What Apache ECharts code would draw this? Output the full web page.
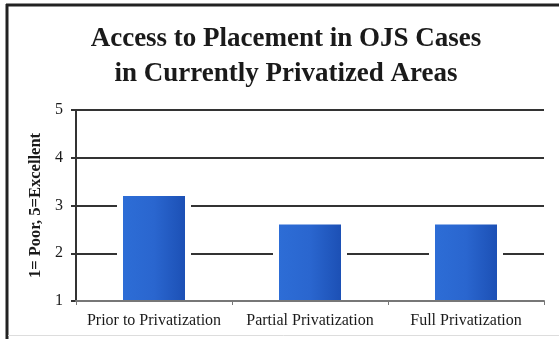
<!DOCTYPE html>
<html>
<head>
<meta charset="utf-8">
<script src="https://cdn.jsdelivr.net/npm/echarts@6/dist/echarts.min.js"></script>
<style>html,body{margin:0;padding:0;background:#fff;}#c{width:559px;height:339px;}</style>
</head>
<body>
<div id="c"></div>
<script>
const titleLines = ["Access to Placement in OJS Cases", "in Currently Privatized Areas"];
const categories = ["Prior to Privatization", "Partial Privatization", "Full Privatization"];
const values = [3.2, 2.6, 2.6];
const yTicks = [1, 2, 3, 4, 5];
const yName = "1= Poor, 5=Excellent";

const chart = echarts.init(document.getElementById('c'), null, {renderer: 'canvas'});
const serif = '"Liberation Serif", "DejaVu Serif", serif';
chart.setOption({
  backgroundColor: '#ffffff',
  animation: false,
  title: {
    text: titleLines.join('\n'),
    left: 281, textAlign: 'center', top: 17,
    textStyle: {fontFamily: serif, fontWeight: 'bold', fontSize: 27, lineHeight: 35, color: '#1a1a1a'}
  },
  graphic: [
    {type: 'line', shape: {x1: 6, y1: 5, x2: 559, y2: 5}, style: {stroke: '#222', lineWidth: 3}},
    {type: 'line', shape: {x1: 7, y1: 4, x2: 7, y2: 339}, style: {stroke: '#222', lineWidth: 3}},
    {type: 'line', shape: {x1: 8, y1: 335.5, x2: 559, y2: 335.5}, style: {stroke: '#ddd', lineWidth: 1}}
  ],
  grid: {left: 76, right: 15, top: 110, bottom: 38},
  xAxis: [{
    type: 'category', data: categories, z: 5,
    axisLine: {lineStyle: {color: '#777', width: 2}},
    axisTick: {show: true, length: 4, lineStyle: {color: '#777'}},
    axisLabel: {interval: 0, fontFamily: serif, fontSize: 16, color: '#1a1a1a', margin: 12}
  }, {
    type: 'category', data: categories, show: false, position: 'bottom'
  }],
  yAxis: {
    type: 'value', min: yTicks[0], max: yTicks[yTicks.length - 1], interval: 1,
    name: yName, nameLocation: 'middle', nameGap: 31, nameRotate: 90,
    nameTextStyle: {fontFamily: serif, fontWeight: 'bold', fontSize: 16.5, color: '#1a1a1a'},
    axisLine: {show: true, lineStyle: {color: '#333', width: 2}},
    axisTick: {show: true, length: 5, lineStyle: {color: '#333', width: 2}},
    axisLabel: {fontFamily: serif, fontSize: 16, color: '#1a1a1a', margin: 13},
    splitLine: {show: true, lineStyle: {color: '#333', width: 2}}
  },
  series: [{
    type: 'bar', data: values, barWidth: 74, xAxisIndex: 1, silent: true, z: 2,
    itemStyle: {color: '#ffffff'}
  }, {
    type: 'bar', data: values, barWidth: 62, xAxisIndex: 0, z: 3,
    itemStyle: {
      color: new echarts.graphic.LinearGradient(0, 0, 1, 0, [
        {offset: 0, color: '#2d6dd6'},
        {offset: 0.5, color: '#2a66cf'},
        {offset: 1, color: '#1c50b5'}
      ])
    }
  }]
});
</script>
</body>
</html>
